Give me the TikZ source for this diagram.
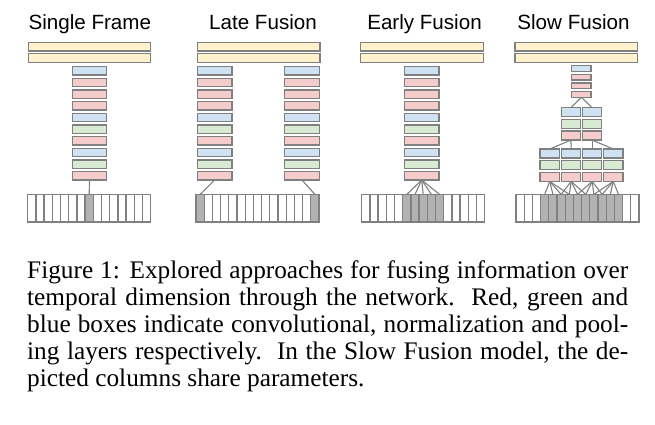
\documentclass[tikz,border=0pt]{standalone}
\usepackage{fontspec}
\setmainfont{Liberation Serif}
\setsansfont{Liberation Sans}
\usepackage{xcolor}
\definecolor{vfline}{RGB}{128,128,128}
\definecolor{vffc}{RGB}{255,242,204}
\definecolor{vfconv}{RGB}{244,204,204}
\definecolor{vfnorm}{RGB}{217,234,211}
\definecolor{vfpool}{RGB}{207,226,243}
\definecolor{vfhot}{RGB}{178,178,178}

\begin{document}
\begin{tikzpicture}[x=1pt, y=-1pt,
  layer/.style={draw=vfline, line width=1.25pt, inner sep=0pt, outer sep=0pt,
    minimum width=34.4pt, minimum height=8.3pt},
  conv/.style={layer, fill=vfconv},
  norm/.style={layer, fill=vfnorm},
  pool/.style={layer, fill=vfpool},
  fc/.style={layer, fill=vffc, minimum width=122.4pt, minimum height=8.7pt},
  small/.style={minimum width=19.3pt, minimum height=9pt},
  tiny/.style={minimum width=19.3pt, minimum height=5.6pt},
  cell/.style={layer, fill=white, minimum width=8.2pt, minimum height=27.6pt},
  hot/.style={cell, fill=vfhot},
  link/.style={draw=vfline, line width=1.1pt},
  title/.style={font=\sffamily\fontsize{20.6}{22}\selectfont, anchor=base},
  capline/.style={font=\fontsize{25.3}{27}\selectfont, inner sep=0pt, align=left}
]
\useasboundingbox[fill=white] (0,0) rectangle (655,424);

% column titles
\node[title] (sf-title) at (89.8,29.3) {Single Frame};
\node[title] (lf-title) at (263,29.3) {Late Fusion};
\node[title] (ef-title) at (424.5,29.3) {Early Fusion};
\node[title] (sl-title) at (573.5,29.3) {Slow Fusion};

% fully connected layers on top
\foreach \nm/\x in {sf/89.5, lf/258.8, ef/422, sl/576.2} {
  \node[fc] (\nm-fc1) at (\x,46.7) {};
  \node[fc] (\nm-fc2) at (\x,58) {};
}

% full towers
\foreach \nm/\x in {sf/89.5, lfa/214.7, lfb/302, ef/421.7}
  \foreach \kind [count=\i] in {pool,conv,conv,conv,pool,norm,conv,pool,norm,conv}
    \node[\kind] (\nm\i) at (\x,{70.8+(\i-1)*11.67}) {};

% slow fusion tower
\foreach \kind [count=\i] in {pool,conv,conv,conv}
  \node[\kind, tiny] (slt\i) at (581.4,{68.5+(\i-1)*8.7}) {};
\foreach \x [count=\col] in {570.9,592.2}
  \foreach \kind [count=\row] in {pool,norm,conv}
    \node[\kind, small] (slm\col-\row) at (\x,{112.2+(\row-1)*11.7}) {};
\foreach \x [count=\col] in {549.7,571.2,592.2,613.3}
  \foreach \kind [count=\row] in {pool,norm,conv}
    \node[\kind, small] (slb\col-\row) at (\x,{153.5+(\row-1)*11.7}) {};

% input frames
\foreach \nm/\x/\a/\b/\s in {sf/27.7/8/8/1, lf/196/1/15/14, ef/361.7/6/10/1, sl/516/4/13/1}
  \foreach \j in {1,...,15} {
    \pgfmathtruncatemacro\hit{and(and(\j>=\a,\j<=\b),mod(\j-\a,\s)==0)}
    \def\cellkind{cell}
    \ifnum\hit=1 \def\cellkind{hot}\fi
    \node[\cellkind] (\nm c\j) at ({\x+(\j-0.5)*8.2},208.2) {};
  }

% connections
\draw[link] (sf10.south) -- (sfc8.north);
\draw[link] (lfa10.south) -- (lfc1.north);
\draw[link] (lfb10.south) -- (lfc15.north);
\foreach \j in {6,...,10}
  \draw[link] (ef10.south) -- (efc\j.north);
\foreach \col in {1,2}
  \draw[link] (slt4.south) -- (slm\col-1.north);
\foreach \col in {1,...,4} {
  \pgfmathtruncatemacro\up{ceil(\col/2)}
  \draw[link] (slm\up-3.south) -- (slb\col-1.north);
}
\foreach \col in {1,...,4}
  \foreach \k in {0,...,3} {
    \pgfmathtruncatemacro\j{2*\col+2+\k}
    \draw[link] (slb\col-3.south) -- (slc\j.north);
  }

% caption (base anchor sits on the last line)
\node[capline, anchor=base west] (caption) at (27,386)
  {\makebox[601pt][s]{Figure 1: Explored approaches for fusing information over}\\
   \makebox[601pt][s]{temporal dimension through the network.\ \ Red, green and}\\
   \makebox[601pt][s]{blue boxes indicate convolutional, normalization and pool-}\\
   \makebox[601pt][s]{ing layers respectively.\ \ In the Slow Fusion model, the de-}\\
   picted columns share parameters.};
\end{tikzpicture}
\end{document}
